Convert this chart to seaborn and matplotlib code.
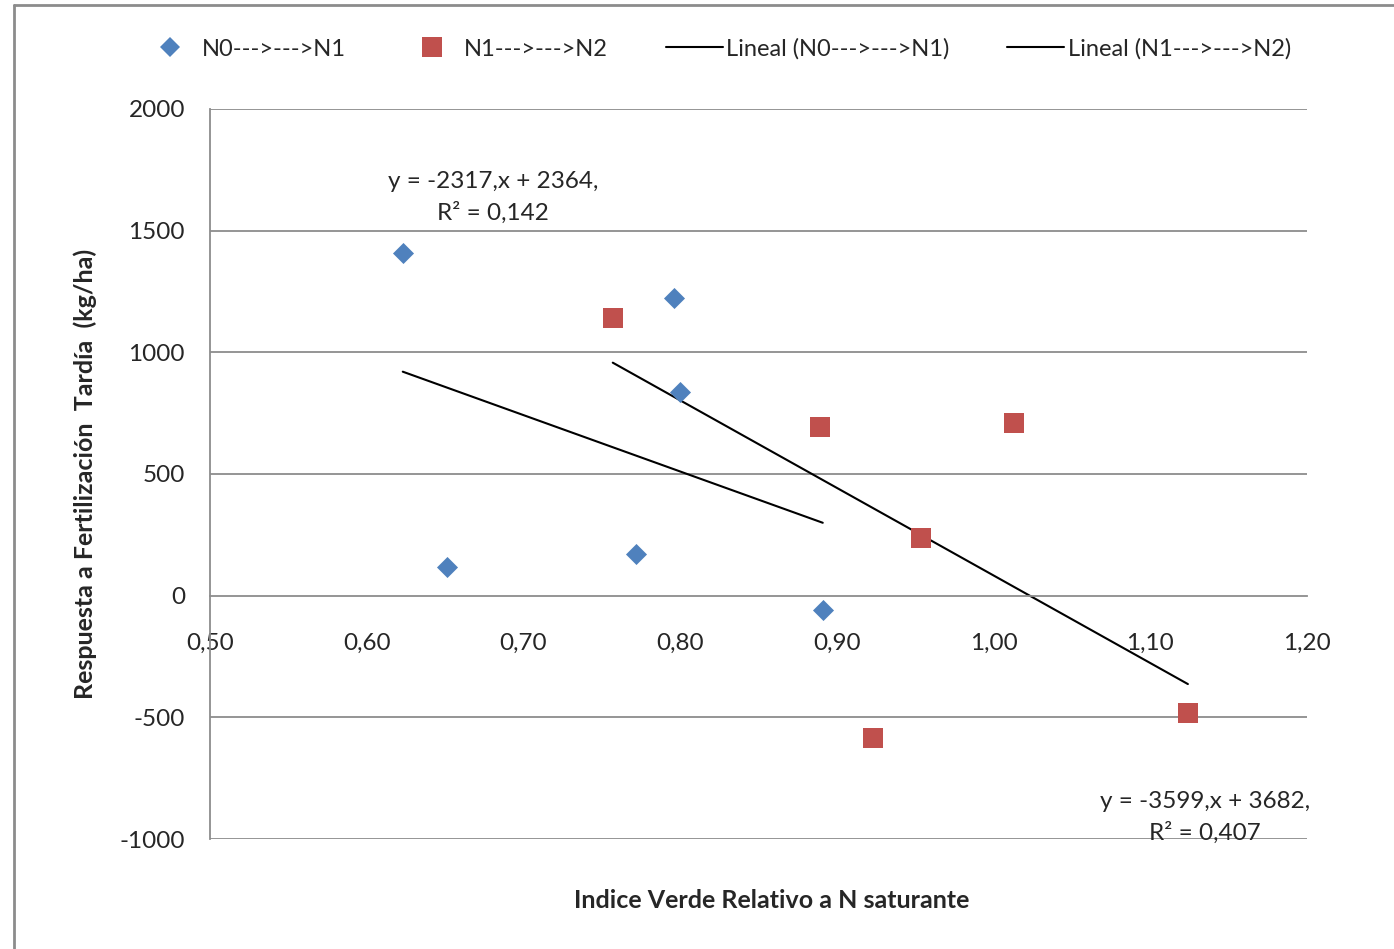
import numpy as np
import pandas as pd
import seaborn as sns
import matplotlib.pyplot as plt
from matplotlib.lines import Line2D
from matplotlib.ticker import FuncFormatter

sns.set_style("white")
plt.rcParams['font.family'] = ['Lato', 'DejaVu Sans']

# %% Data

n0_x = [0.623, 0.651, 0.772, 0.796, 0.800, 0.891]
n0_y = [1410, 119, 173, 1225, 838, -58]

n1_x = [0.757, 0.889, 0.954, 1.013, 0.923, 1.124]
n1_y = [1143, 695, 238, 711, -584, -481]

series_names = ['N0--->--->N1', 'N1--->--->N2']
trend_slopes = [-2317, -3599]
trend_intercepts = [2364, 3682]
trend_labels = ['y = -2317,x + 2364,\nR² = 0,142', 'y = -3599,x + 3682,\nR² = 0,407']

x_ticks = [0.50, 0.60, 0.70, 0.80, 0.90, 1.00, 1.10, 1.20]
y_ticks = [-1000, -500, 0, 500, 1000, 1500, 2000]

blue = '#4F81BD'
red = '#C0504D'
grid_grey = '#8C8C8C'

points = pd.concat([
    pd.DataFrame({'x': n0_x, 'y': n0_y, 'Serie': series_names[0]}),
    pd.DataFrame({'x': n1_x, 'y': n1_y, 'Serie': series_names[1]}),
])

# %% Plot

fig = plt.figure(figsize=(13.94, 9.49), dpi=100)
ax = fig.add_axes([210 / 1394, 1 - 839 / 949, 1097 / 1394, 730 / 949])

for val in y_ticks:
    if val != 0:
        ax.axhline(val, color=grid_grey, lw=1.3, zorder=0)

sns.scatterplot(data=points.loc[points.Serie == series_names[0]], x='x', y='y',
                marker='D', s=115, color=blue, linewidth=0, ax=ax, zorder=3)
sns.scatterplot(data=points.loc[points.Serie == series_names[1]], x='x', y='y',
                marker='s', s=225, color=red, linewidth=0, ax=ax, zorder=3)

for xs, m, b in zip([n0_x, n1_x], trend_slopes, trend_intercepts):
    lx = np.array([min(xs), max(xs)])
    sns.lineplot(x=lx, y=m * lx + b, color='black', lw=1.5, ax=ax, zorder=2)

ax.text(0.6806, 1636, trend_labels[0], ha='center', va='center', fontsize=17.5, linespacing=1.5)
ax.text(1.135, -912, trend_labels[1], ha='center', va='center', fontsize=17.5, linespacing=1.5)

ax.set_xlim(0.5, 1.2)
ax.set_ylim(-1000, 2000)
ax.set_xticks(x_ticks)
ax.set_yticks(y_ticks)
ax.xaxis.set_major_formatter(FuncFormatter(lambda v, p: f'{v:.2f}'.replace('.', ',')))
ax.yaxis.set_major_formatter(FuncFormatter(lambda v, p: f'{v:.0f}'))

for side in ['top', 'right']:
    ax.spines[side].set_visible(False)
ax.spines['bottom'].set_position(('data', 0))
ax.spines['bottom'].set_color(grid_grey)
ax.spines['bottom'].set_linewidth(1.3)
ax.spines['left'].set_color(grid_grey)
ax.spines['left'].set_linewidth(1.3)
ax.tick_params(axis='x', direction='out', length=8, width=1.3, color=grid_grey,
               labelsize=17.5, pad=19)
ax.tick_params(axis='y', direction='out', length=9, width=1.3, color=grid_grey,
               labelsize=17.5, pad=9)

ax.set_xlabel('Indice Verde Relativo a N saturante', fontsize=18, fontweight='bold')
ax.xaxis.set_label_coords(0.512, -0.068)
ax.set_ylabel('Respuesta a Fertilización  Tardía  (kg/ha)', fontsize=18, fontweight='bold')
ax.yaxis.set_label_coords(-0.103, 0.5)

handles = [
    Line2D([], [], ls='none', marker='D', ms=10.5, color=blue, mew=0),
    Line2D([], [], ls='none', marker='s', ms=15, color=red, mew=0),
    Line2D([], [], color='black', lw=1.5),
    Line2D([], [], color='black', lw=1.5),
]
labels = series_names + [f'Lineal ({n})' for n in series_names]
fig.legend(handles, labels, loc='center', bbox_to_anchor=(0.514, 1 - 49 / 949), ncol=4,
           frameon=False, fontsize=17, handlelength=2.4, handletextpad=0.15, columnspacing=2.45)

# chart area border (left and top edges visible in the crop)
fig.add_artist(Line2D([14 / 1394, 14 / 1394], [0, 1 - 5 / 949], transform=fig.transFigure,
                      color='#8C8C8C', lw=2))
fig.add_artist(Line2D([14 / 1394, 1], [1 - 5 / 949, 1 - 5 / 949], transform=fig.transFigure,
                      color='#8C8C8C', lw=2))

plt.savefig('out.png', dpi=100)
